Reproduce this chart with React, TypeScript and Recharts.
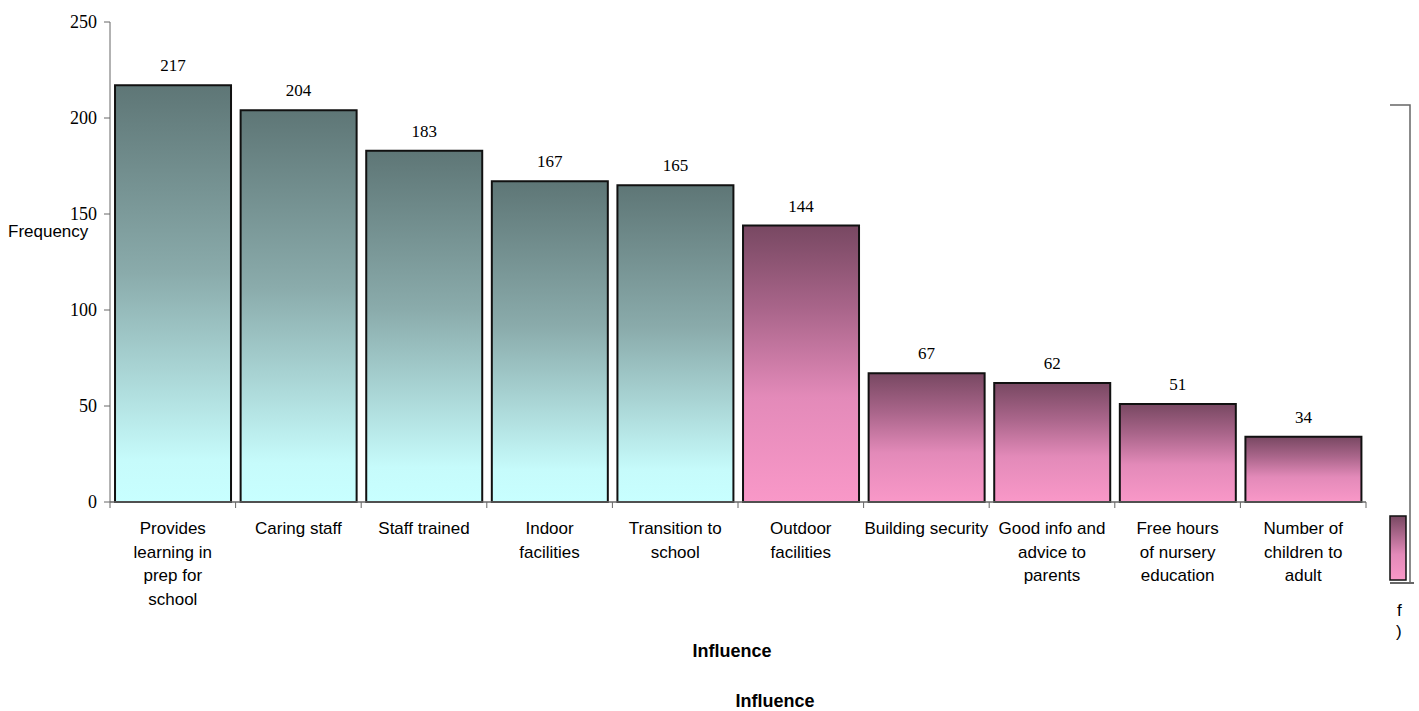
import { BarChart, Bar, XAxis, YAxis, Cell, LabelList, ReferenceLine } from "recharts";

const categories = [
  "Provides\nlearning in\nprep for\nschool",
  "Caring staff",
  "Staff trained",
  "Indoor\nfacilities",
  "Transition to\nschool",
  "Outdoor\nfacilities",
  "Building security",
  "Good info and\nadvice to\nparents",
  "Free hours\nof nursery\neducation",
  "Number of\nchildren to\nadult",
];
const frequencies = [217, 204, 183, 167, 165, 144, 67, 62, 51, 34];
// the first five influences form the leading group
const groups = ["lead", "lead", "lead", "lead", "lead", "rest", "rest", "rest", "rest", "rest"];
const yTicks = [0, 50, 100, 150, 200, 250];

const data = categories.map((name, i) => ({ name, value: frequencies[i], group: groups[i] }));

const SANS = "'Liberation Sans', Arial, sans-serif";
const SERIF = "'Liberation Serif', 'Times New Roman', serif";

function InfluenceTick(props: any) {
  const { x, y, payload, index, visibleTicksCount } = props;
  const lines = String(payload.value).split("\n");
  const half = payload.offset || 0;
  return (
    <g>
      <line x1={x - half} x2={x - half} y1={y - 8} y2={y - 2} stroke="#666" />
      {index === visibleTicksCount - 1 && (
        <line x1={x + half} x2={x + half} y1={y - 8} y2={y - 2} stroke="#666" />
      )}
      <text x={x} y={y + 24} textAnchor="middle" fontFamily={SANS} fontSize={17} fill="#000">
        {lines.map((l, i) => (
          <tspan key={i} x={x} dy={i === 0 ? 0 : 23.5}>
            {l}
          </tspan>
        ))}
      </text>
    </g>
  );
}

export default function App() {
  return (
    <div style={{ position: "absolute", left: 0, top: 0, width: 1419, height: 711, background: "#fff" }}>
      <BarChart
        width={1419}
        height={711}
        data={data}
        margin={{ top: 22, right: 53, left: 0, bottom: 0 }}
        barCategoryGap="4%"
      >
        <defs>
          <linearGradient id="leadFill" x1="0" y1="0" x2="0" y2="1">
            <stop offset="0%" stopColor="#5e7676" />
            <stop offset="45%" stopColor="#8aabab" />
            <stop offset="90%" stopColor="#c6fbfb" />
            <stop offset="100%" stopColor="#c8ffff" />
          </linearGradient>
          <linearGradient id="restFill" x1="0" y1="0" x2="0" y2="1">
            <stop offset="0%" stopColor="#784862" />
            <stop offset="30%" stopColor="#a9658a" />
            <stop offset="62%" stopColor="#e38ab9" />
            <stop offset="100%" stopColor="#f998c8" />
          </linearGradient>
        </defs>
        <XAxis
          dataKey="name"
          interval={0}
          height={209}
          stroke="#666"
          tickLine={false}
          tick={<InfluenceTick />}
        />
        <XAxis xAxisId="frame" orientation="top" height={0} tick={false} tickLine={false} stroke="#666" />
        <YAxis
          domain={[0, 250]}
          ticks={yTicks}
          width={110}
          stroke="#666"
          tickSize={6}
          tickMargin={7}
          tick={{ fontFamily: SERIF, fontSize: 18, fill: "#000" }}
        />
        <YAxis yAxisId="frame" orientation="right" width={0} tick={false} tickLine={false} stroke="#666" />
        <ReferenceLine y={0} stroke="#666" />
        <Bar dataKey="value" stroke="#111" strokeWidth={2} isAnimationActive={false}>
          {data.map((d, i) => (
            <Cell key={i} fill={d.group === "lead" ? "url(#leadFill)" : "url(#restFill)"} />
          ))}
          <LabelList dataKey="value" position="top" offset={14} fontFamily={SERIF} fontSize={17} fill="#000" />
        </Bar>
      </BarChart>

      <div style={{ position: "absolute", left: 8, top: 222, fontFamily: SANS, fontSize: 17 }}>Frequency</div>
      <div style={{ position: "absolute", left: 732, top: 641, transform: "translateX(-50%)", fontFamily: SANS, fontSize: 18, fontWeight: "bold" }}>
        Influence
      </div>
      <div style={{ position: "absolute", left: 775, top: 691, transform: "translateX(-50%)", fontFamily: SANS, fontSize: 18, fontWeight: "bold" }}>
        Influence
      </div>

      {/* clipped second copy of the chart at the right edge */}
      <svg style={{ position: "absolute", left: 1380, top: 100 }} width={39} height={540}>
        <defs>
          <linearGradient id="edgeFill" x1="0" y1="0" x2="0" y2="1">
            <stop offset="0%" stopColor="#784862" />
            <stop offset="60%" stopColor="#e38ab9" />
            <stop offset="100%" stopColor="#f998c8" />
          </linearGradient>
        </defs>
        <polyline points="10,5 30,5 30,483" fill="none" stroke="#666" strokeWidth={1.5} />
        <rect x={10} y={416} width={16} height={64} fill="url(#edgeFill)" stroke="#111" strokeWidth={1.5} />
        <line x1={10} x2={34} y1={483} y2={483} stroke="#666" strokeWidth={2} />
        <text x={17} y={516} fontFamily={SANS} fontSize={17}>f</text>
        <text x={16} y={537} fontFamily={SANS} fontSize={17}>)</text>
      </svg>
    </div>
  );
}
